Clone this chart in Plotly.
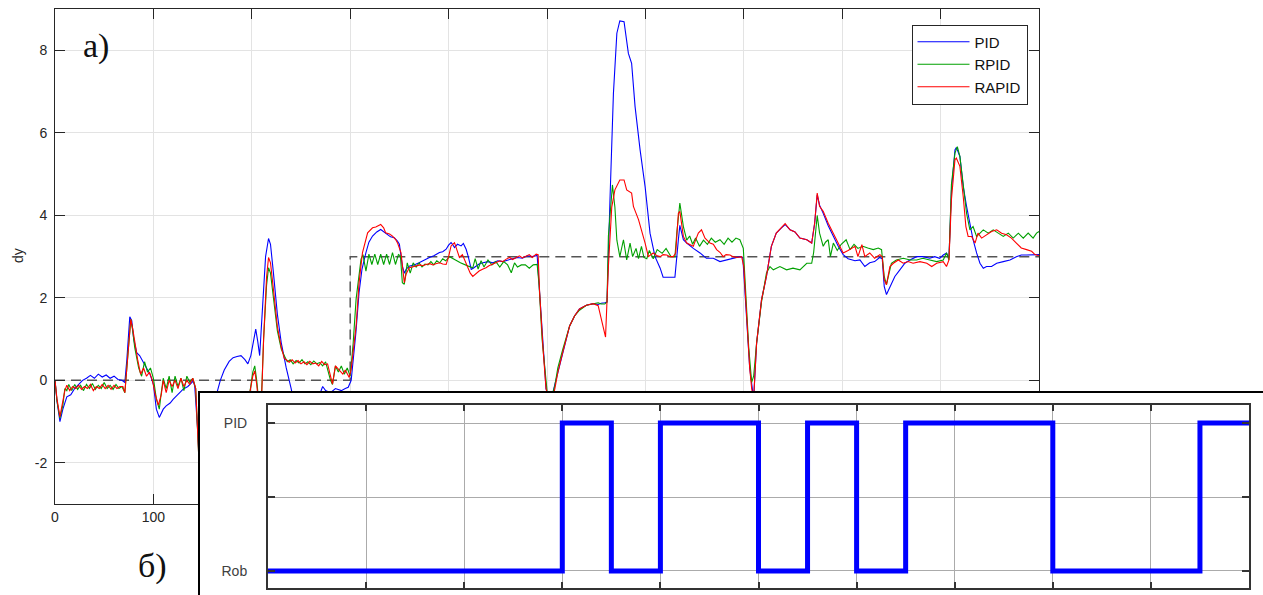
import plotly.graph_objects as go

W, H = 1263, 595

# ---------------- data ----------------
t_pid = [0, 2, 5, 8, 12, 16, 20, 24, 28, 32, 36, 40, 44, 48, 52, 56, 60, 64, 68, 71, 73, 76, 78, 80, 83, 86, 90, 93, 96.5,
         100, 103, 106, 110, 113, 117, 120, 125, 130, 135, 140.5, 142, 145, 147, 150, 155, 160, 164, 168, 172, 177, 181,
         185, 189, 193, 196, 199, 201, 204, 206, 208, 211, 214, 217, 219, 222, 226, 230, 235, 240, 245, 250, 258, 265,
         270, 272, 275, 280, 285, 291, 295, 298, 301, 305.8, 309, 312, 316, 319, 322.7, 327, 331, 335, 338, 341, 344.8,
         348, 350, 353, 355, 357, 360, 365, 370, 375, 380.5, 385, 390.7, 394, 397.5, 400, 402.5, 404, 406, 409, 412.7,
         415, 417.8, 420, 423, 425, 428, 431, 435, 440, 445, 450, 455, 460, 465, 470, 475, 480, 485, 490, 492.5, 496,
         499, 502, 505, 508, 511, 516, 523, 528, 533, 540, 547, 552, 555, 558.7, 561, 564, 567.5, 571, 574, 578.3,
         582.7, 586, 589.5, 594.6, 599.7, 604.7, 609.8, 615, 618, 625, 630, 633.5, 635, 638.6, 642, 648.7, 655.5, 662,
         669, 675.8, 682.6, 689, 696, 699, 703, 706, 710, 713, 718, 723, 728, 733, 738, 742, 747, 752, 757, 764, 769,
         772, 774.6, 777, 780.7, 785.8, 790.9, 796, 801, 806, 813, 818, 823, 828, 833, 838, 840.7, 842.7, 845, 848.5,
         853.5, 858.6, 863.7, 868.8, 875.6, 882, 889, 894, 899, 902.7, 906, 908.5, 911, 914.6, 916, 919.6, 923, 926.4,
         929.8, 933, 936.6, 940, 943.4, 946.7, 951.8, 957, 963.7, 970.5, 977, 982, 987.4, 994, 1000]
y_pid = [0.0, -0.5, -1.0, -0.7, -0.4, -0.35, -0.2, -0.1, 0.0, 0.05, 0.12, 0.05, 0.15, 0.08, 0.13, 0.05, 0.1, 0.02, 0.0,
         -0.05, 0.5, 1.54, 1.45, 1.0, 0.67, 0.6, 0.43, 0.3, 0.15,
         -0.1, -0.7, -0.9, -0.7, -0.62, -0.55, -0.46, -0.35, -0.22, -0.15, -0.02, -0.14, -1.2, -2.2, -2.4, -1.8, -1.0,
         -0.35, 0.0, 0.25, 0.46, 0.55,
         0.58, 0.6, 0.5, 0.4, 0.6, 0.9, 1.24, 0.95, 0.6, 1.8, 3.0, 3.44, 3.3, 2.6, 1.6, 0.9, 0.3, -0.2, -0.8, -1.3, -1.1,
         -0.6,
         -0.3, -0.15, -0.25, -0.3, -0.2, -0.25, -0.2, -0.17, 0.0, 1.16, 2.13, 2.7, 3.1, 3.35, 3.5, 3.6, 3.66, 3.58, 3.54,
         3.48, 3.46,
         3.38, 3.3, 2.77, 2.6, 2.7, 2.77, 2.8, 2.85, 2.92, 2.98, 3.02, 3.1, 3.12, 3.18, 3.28, 3.34, 3.3, 3.22, 3.3, 3.26,
         3.32, 3.18, 3.0, 2.69, 2.72, 2.77, 2.82, 2.85, 2.88, 2.85, 2.9, 2.88, 2.92, 2.95, 2.98, 2.96, 3.02, 3.0, 3.03,
         2.13, 0.76,
         -0.2, -0.45, -0.4, -0.1, 0.19, 0.68, 1.32, 1.56, 1.73, 1.82, 1.86, 1.84, 1.87, 1.88, 1.9, 4.38, 6.96, 8.42,
         8.72, 8.7,
         7.93, 7.69, 6.64, 5.59, 4.7, 3.57, 3.0, 2.72, 2.5, 2.5, 2.5, 3.41, 3.76, 3.41, 3.33, 3.2, 3.09, 2.96,
         2.96, 2.88, 2.92, 2.96, 3.0, 2.98, 1.5, 0.3, -0.45, 0.9, 1.95, 2.52, 3.25, 3.57, 3.69, 3.78, 3.65, 3.6, 3.45,
         3.41, 3.33,
         3.81, 4.5, 4.25, 4.05, 3.75, 3.5, 3.25, 3.05, 2.95, 2.9, 2.92, 2.76, 2.85, 2.88, 2.98, 2.95, 2.28, 2.08, 2.28,
         2.52, 2.68, 2.84, 2.92, 3.0, 3.0, 2.96, 3.0, 2.96, 3.04, 3.09, 2.96, 4.6, 5.59, 5.65, 5.43, 4.7, 4.22,
         3.81, 3.41, 3.09, 2.84, 2.72, 2.76, 2.76, 2.84, 2.88, 2.92, 3.0, 3.04, 3.04, 3.04, 3.05]

t_rpid = [0, 2, 5, 8, 10, 12, 14, 17, 20, 23, 26, 29, 32, 35, 38, 41, 44, 47, 50, 53, 56, 59, 62, 65, 68, 71, 74, 77, 79,
          81, 85, 88, 91, 94, 97, 100, 103, 106, 108, 110, 113, 116, 119, 122, 125, 128, 131, 134, 137, 140, 143, 146,
          149, 155, 162, 170, 178, 186, 193, 198, 201, 203, 205, 207, 210, 212, 215, 217, 219, 222, 226, 230, 233, 236,
          239, 242, 245, 248, 251, 254, 257, 260, 263, 266, 269, 272, 275, 278, 280, 282, 285, 288, 291, 294, 297, 300,
          303, 306, 309, 311, 313, 316, 319, 322, 325, 328, 331, 334, 337, 340, 343, 346, 349, 351, 353, 355, 358, 361,
          364, 367, 370, 373, 376, 379, 382, 385, 388, 391, 394, 397, 401, 404, 407, 412, 416, 420, 424.6, 427, 430,
          433, 436, 440, 444, 448, 452, 456, 460, 463.7, 467, 470, 474, 478, 482, 486, 490, 492, 495, 497.8, 500, 503,
          506, 508, 511, 516, 523, 528, 533, 540, 547, 552, 555, 558.7, 561, 562.4, 566.5, 569, 571, 574, 577.7, 581,
          584.4, 587, 590.5, 593, 596, 598.5, 601.4, 604, 608, 612, 617, 621, 626, 630, 632, 635, 638.6, 642, 645, 648,
          651, 655, 659, 663, 667, 671, 675.8, 680, 684, 688, 692, 696, 699.5, 702, 705, 708, 710, 713, 718, 723, 726.6,
          730, 736.7, 743.5, 750, 757, 764, 769, 771, 774.6, 777, 780.7, 783, 785.8, 788, 791, 795, 799, 804, 808, 812,
          816, 821, 826, 831.6, 836.7, 840, 842.7, 845, 850, 855, 862, 869, 875.6, 882, 889, 896, 902.7, 906, 908.5,
          911, 914.6, 917, 919.6, 923, 926.4, 929.8, 933, 936.6, 940, 943.4, 948.4, 953.5, 958.6, 963.7, 968.8, 973.8,
          979, 984, 989, 994, 997.5, 1000]
y_rpid = [0, -0.5, -0.92, -0.6, -0.2, -0.25, -0.1, -0.25, -0.1, -0.22, -0.12, -0.25, -0.1, -0.2, -0.08, -0.22, -0.12,
          -0.2, -0.05, -0.2, -0.12, -0.22, -0.1, -0.2, -0.15, -0.3, 0.6, 1.48, 1.2,
          0.8, 0.3, 0.1, 0.45, 0.2, 0.3, 0.05, -0.45, -0.7, -0.3, 0.05, -0.2, 0.1, -0.3, 0.1, -0.15, 0.05, -0.25, 0.1,
          -0.05, 0.05, -0.2, -1.8,
          -2.4, -2.2, -1.8, -1.4, -1.1, -0.8, -0.6, -0.3, 0.2, 0.35, 0.0, -0.5, -0.3, 1.0, 2.3, 2.73, 2.6, 2.0, 1.2,
          0.75, 0.6, 0.45,
          0.5, 0.4, 0.48, 0.42, 0.5, 0.4, 0.45, 0.38, 0.47, 0.4, 0.43, 0.35, 0.45, 0.2, 0.0, -0.1, 0.35, 0.2, 0.35,
          0.15, 0.3, 0.1,
          0.9, 1.97, 2.6, 2.94, 3.05, 2.65, 3.06, 2.81, 3.06, 2.81, 3.06, 2.81, 3.06, 2.81, 3.1, 2.81, 3.05, 3.02, 2.37,
          2.33, 2.85, 2.6,
          2.85, 2.75, 2.85, 2.75, 2.82, 2.8, 2.88, 2.8, 2.9, 2.85, 2.95, 2.9, 3.0, 2.95, 2.92, 2.85, 2.8, 2.77, 2.73,
          2.95, 2.7,
          2.9, 2.75, 2.92, 2.8, 2.88, 2.75, 2.88, 2.8, 2.61, 2.85, 2.75, 2.8, 2.8, 2.72, 2.8, 2.81, 2.3, 1.0, 0.19,
          -0.25, -0.4,
          -0.3, -0.13, 0.3, 0.75, 1.32, 1.56, 1.7, 1.82, 1.86, 1.88, 1.85, 1.85, 1.9, 3.5, 4.74, 4.2, 3.4, 3.0, 3.41,
          2.92,
          3.33, 3.0, 3.2, 2.95, 3.25, 2.98, 2.95, 3.15, 2.95, 3.17, 3.08, 3.2, 3.0, 3.0, 3.6, 4.3, 3.73, 3.4, 3.5, 3.3,
          3.45, 3.25, 3.4, 3.3, 3.45, 3.35, 3.41, 3.3, 3.45, 3.35, 3.45, 3.41, 3.2, 2.0, 0.8, -0.05, 0.1, 0.9, 1.9,
          2.6, 2.76,
          2.68, 2.76, 2.68, 2.72, 2.68, 2.84, 2.84, 3.1, 4.0, 3.57, 3.25, 3.35, 3.41, 3.0, 3.33, 3.15, 3.3, 3.41, 3.17,
          3.3,
          3.2, 3.25, 3.21, 3.17, 3.21, 3.17, 2.52, 2.32, 2.84, 2.92, 2.96, 2.92, 2.92, 2.96, 2.92, 2.88, 2.92, 3.09,
          2.92,
          4.75, 5.51, 5.67, 5.43, 4.7, 4.05, 3.65, 3.73, 3.49, 3.57, 3.65, 3.57, 3.65, 3.57, 3.49, 3.57, 3.45,
          3.57, 3.45, 3.57, 3.45, 3.57, 3.61]

t_rapid = [0, 2, 5, 8, 10, 12, 15, 18, 21, 24, 27, 30, 33, 36, 39, 42, 45, 48, 51, 54, 57, 60, 63, 66, 69, 71, 74, 77,
           79, 81, 84, 87, 90, 93, 96, 99, 102, 105, 108, 110, 113, 116, 119, 122, 125, 128, 131, 134, 137, 140, 143,
           146, 149, 155, 162, 170, 178, 186, 193, 198, 201, 203, 205, 207, 210, 212, 215, 217, 219, 222, 226, 230,
           233, 236, 238, 241, 244, 247, 250, 253, 256, 259, 262, 265, 268, 271, 274, 277, 279, 282, 285, 288, 292.5,
           295, 299, 301, 306, 309, 312.5, 317.7, 322.7, 326, 331, 334, 336, 340, 343, 346, 348, 351.6, 355, 356.7,
           360, 363, 367, 371, 374, 377, 381, 384, 387, 391, 394, 397.5, 400, 402.5, 406, 409, 411, 414, 416, 419.5,
           422, 424.6, 428, 431, 435, 438, 441, 445, 448, 452, 455, 458.6, 462, 465, 468.8, 472, 475, 479, 482, 485,
           489, 491, 492.5, 496, 499, 502, 505, 508, 511, 516, 523, 528, 533, 540, 547, 552, 555, 557, 559.5, 562.4,
           565.8, 569, 574, 578.3, 581, 586, 587.8, 593, 596, 599.7, 603, 608, 612, 615, 618, 621.7, 625, 628.4, 630.8,
           633.5, 635, 638.6, 642, 645, 648.7, 651, 653.8, 657, 660.6, 665.6, 669, 672.4, 676, 679, 682, 686, 689,
           692.7, 697.8, 700, 703, 706, 708, 710, 713, 718, 723, 728, 733, 738, 742, 747, 752, 757, 764, 769, 772,
           774.6, 777, 780.7, 785.8, 790.9, 796, 801, 806, 813, 816, 820, 823, 828, 833, 838.3, 840.7, 842.7, 845,
           848.5, 852, 857, 862, 867, 872, 879, 886, 891, 896, 902.7, 906, 908.5, 911, 914.6, 916, 919.6, 923, 925.7,
           928, 931.5, 935, 938, 941.7, 946.7, 951.8, 957, 962, 967, 972, 977, 982, 987.4, 992.5, 995.9, 1000]
y_rapid = [0, -0.45, -0.88, -0.55, -0.25, -0.12, -0.25, -0.15, -0.2, -0.12, -0.22, -0.15, -0.2, -0.1, -0.25, -0.15,
           -0.2, -0.1, -0.2, -0.12, -0.22, -0.12, -0.2, -0.15, -0.15, -0.3, 0.5, 1.48,
           1.25, 0.9, 0.5, 0.15, 0.3, 0.1, 0.2, 0.0, -0.35, -0.6, -0.35, 0.0, -0.3, 0.0, -0.15, 0.0, -0.2, 0.05, -0.15,
           0.0, -0.1, 0.05, -0.2,
           -1.8, -2.5, -2.3, -1.9, -1.5, -1.1, -0.8, -0.55, -0.3, 0.1, 0.23, -0.1, -0.6, -0.4, 1.0, 2.5, 2.98, 2.85,
           2.2, 1.3, 0.8,
           0.53, 0.48, 0.44, 0.5, 0.42, 0.48, 0.4, 0.45, 0.38, 0.46, 0.4, 0.42, 0.35, 0.46, 0.38, 0.4, 0.2, -0.09,
           0.35, 0.27, 0.15,
           0.25, 0.07, 0.27, 1.32, 2.37, 3.1, 3.58, 3.7, 3.72, 3.78, 3.7, 3.58, 3.55, 3.5, 3.42, 3.34, 3.1, 2.37, 2.57,
           2.73, 2.75, 2.77, 2.8, 2.78, 2.81, 2.83, 2.8, 2.83, 2.85, 2.82, 2.81, 3.0, 3.26, 3.34, 3.15, 2.98, 3.05,
           2.94, 2.77,
           2.6, 2.52, 2.6, 2.65, 2.7, 2.73, 2.78, 2.81, 2.85, 2.9, 2.88, 2.94, 2.98, 2.93, 2.98, 3.02, 2.97, 3.02,
           3.05, 2.98,
           3.06, 3.05, 2.13, 0.76, -0.2, -0.45, -0.5, -0.2, 0.19, 0.68, 1.32, 1.56, 1.73, 1.82, 1.86, 1.81, 1.5, 1.23,
           1.05, 2.76,
           4.2, 4.62, 4.86, 4.86, 4.62, 4.54, 4.22, 3.9, 3.65, 3.33, 3.0, 3.09, 3.02, 3.0, 3.05, 3.04, 3.0, 3.0, 3.09,
           4.05, 4.1, 3.49, 3.33, 3.3, 3.25, 3.4, 3.57, 3.65, 3.45, 3.33, 3.3, 3.17, 3.1, 3.0, 3.05, 3.04, 3.0,
           2.98, 3.0, 2.76, 1.5, 0.3, -0.2, -0.45, 0.9, 1.95, 2.52, 3.25, 3.57, 3.69, 3.8, 3.65, 3.6, 3.45, 3.41, 3.33,
           3.81,
           4.54, 4.22, 4.1, 3.81, 3.57, 3.33, 3.09, 3.15, 3.25, 3.0, 3.29, 3.0, 3.09, 2.96, 3.05, 3.0, 2.44, 2.32,
           2.76, 2.84, 2.92, 2.84, 2.88, 2.84, 2.88, 2.84, 2.76, 2.84, 2.88, 2.76, 2.92, 4.38, 5.35, 5.39, 5.19, 4.46,
           3.73,
           3.49, 3.49, 3.33, 3.57, 3.45, 3.53, 3.61, 3.65, 3.57, 3.53, 3.45, 3.33, 3.21, 3.17, 3.13, 3.05, 3.02]

ref_t = [0, 300, 300, 1000]
ref_y = [0, 0, 3, 3]

mode_t = [0, 300, 350, 400, 500, 550, 600, 650, 800, 950, 1000]
mode_v = [0, 1, 0, 1, 0, 1, 0, 1, 0, 1, 1]
mode_ticks = [0, 0.5, 1]
mode_labels = ["Rob", "", "PID"]

main_xticks = list(range(0, 1001, 100))
main_xlabels = [str(v) for v in main_xticks]
main_yticks = [-2, 0, 2, 4, 6, 8]
main_ylabels = ["-2", "0", "2", "4", "6", "8"]

# ---------------- figure ----------------
def px_x(p):
    return min(p / W, 1.0)

def px_y(p):
    return 1 - p / H

FONT = "Liberation Sans, Arial, sans-serif"
SERIF = "Liberation Serif, Times New Roman, serif"
AX = "#262626"

fig = go.Figure()

fig.add_trace(go.Scatter(x=ref_t, y=ref_y, mode="lines", showlegend=False,
                         line=dict(color="#555555", width=1.5, dash="10px,6px"), xaxis="x", yaxis="y"))
fig.add_trace(go.Scatter(x=t_pid, y=y_pid, mode="lines", name="PID",
                         line=dict(color="#0000ff", width=1.1), xaxis="x", yaxis="y"))
fig.add_trace(go.Scatter(x=t_rpid, y=y_rpid, mode="lines", name="RPID",
                         line=dict(color="#00a000", width=1.1), xaxis="x", yaxis="y"))
fig.add_trace(go.Scatter(x=t_rapid, y=y_rapid, mode="lines", name="RAPID",
                         line=dict(color="#ff0000", width=1.1), xaxis="x", yaxis="y"))

# cover box (white panel of the inset)
fig.add_trace(go.Scatter(x=[None], y=[None], mode="lines", showlegend=False, hoverinfo="skip",
                         xaxis="x2", yaxis="y2"))
# inset mode signal
fig.add_trace(go.Scatter(x=mode_t, y=mode_v, mode="lines", line_shape="hv", showlegend=False,
                         line=dict(color="#0000ff", width=5), xaxis="x3", yaxis="y3"))

fig.update_layout(
    width=W, height=H, autosize=False,
    margin=dict(l=0, r=0, t=0, b=0, pad=0, autoexpand=False),
    paper_bgcolor="white", plot_bgcolor="white",
    font=dict(family=FONT, size=14, color=AX),
    showlegend=True,
    legend=dict(x=px_x(911.5), y=px_y(24.5), xanchor="left", yanchor="top",
                bgcolor="white", bordercolor=AX, borderwidth=1,
                font=dict(family=FONT, size=15, color="#111111"),
                tracegroupgap=0, itemwidth=52),
    xaxis=dict(domain=[px_x(55), px_x(1039)], range=[0, 1000], tickvals=main_xticks, ticktext=main_xlabels,
               ticks="inside", ticklen=10, tickcolor=AX, showline=True, linecolor=AX, linewidth=1,
               mirror="ticks", showgrid=True, gridcolor="#e3e3e3", gridwidth=1, zeroline=False,
               anchor="y", tickfont=dict(size=14, color=AX), automargin=False),
    yaxis=dict(domain=[px_y(504), px_y(9.3)], range=[-3, 9], tickvals=main_yticks, ticktext=main_ylabels,
               ticks="inside", ticklen=10, tickcolor=AX, showline=True, linecolor=AX, linewidth=1,
               mirror="ticks", showgrid=True, gridcolor="#e3e3e3", gridwidth=1, zeroline=False,
               anchor="x", tickfont=dict(size=14, color=AX), ticklabelstandoff=4, automargin=False),
    xaxis2=dict(domain=[px_x(200), 1], range=[0, 1], anchor="y2", side="top", showline=True,
                linecolor="#000000", linewidth=2, showgrid=False, zeroline=False, showticklabels=False,
                ticks="", automargin=False),
    yaxis2=dict(domain=[0, px_y(393)], range=[0, 1], anchor="x2", side="left", showline=True,
                linecolor="#000000", linewidth=2, showgrid=False, zeroline=False, showticklabels=False,
                ticks="", automargin=False),
    xaxis3=dict(domain=[px_x(268), px_x(1249)], range=[0, 1000], tickvals=main_xticks, anchor="y3",
                showticklabels=False, ticks="inside", ticklen=6, tickcolor="#333333", tickwidth=1.5,
                showline=True, linecolor="#333333", linewidth=2, mirror="ticks",
                showgrid=True, gridcolor="#ababab", gridwidth=1.3, zeroline=False, automargin=False),
    yaxis3=dict(domain=[px_y(588), px_y(405)], range=[-0.115, 1.122], tickvals=mode_ticks,
                ticktext=mode_labels, anchor="x3", ticks="inside", ticklen=7, tickcolor="#333333",
                tickwidth=1.5, showline=True, linecolor="#333333", linewidth=2, mirror="ticks",
                showgrid=True, gridcolor="#ababab", gridwidth=1.3, zeroline=False,
                tickfont=dict(size=14, color="#404040"), ticklabelstandoff=16, automargin=False),
    annotations=[
        dict(text="a)", x=px_x(96), y=px_y(46), xref="paper", yref="paper", showarrow=False,
             xanchor="center", yanchor="middle", font=dict(family=SERIF, size=34, color="#111111")),
        dict(text="б)", x=px_x(152), y=px_y(566), xref="paper", yref="paper", showarrow=False,
             xanchor="center", yanchor="middle", font=dict(family=SERIF, size=34, color="#111111")),
        dict(text="dy", x=px_x(18), y=px_y(256), xref="paper", yref="paper", showarrow=False,
             xanchor="center", yanchor="middle", textangle=-90, font=dict(family=FONT, size=14, color=AX)),
    ],
)

fig.write_html("out.html")
